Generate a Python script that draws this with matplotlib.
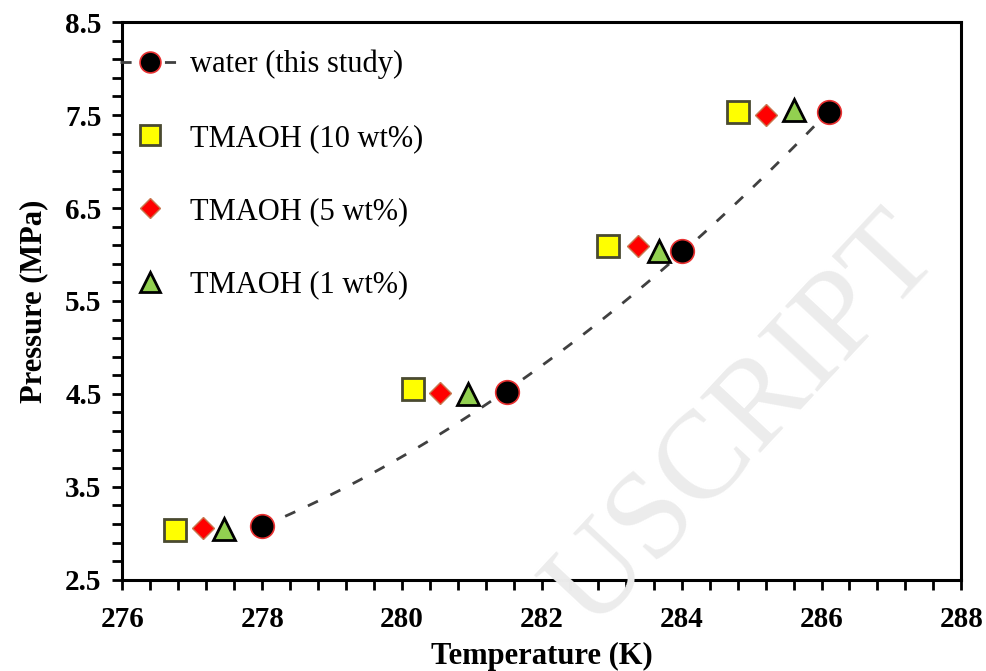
import numpy as np
import matplotlib.pyplot as plt
from matplotlib.ticker import MultipleLocator, FormatStrFormatter

plt.rcParams['font.family'] = ['Liberation Serif', 'DejaVu Serif']

# water (this study)
water_T = [278.0, 281.5, 284.0, 286.1]
water_P = [3.08, 4.52, 6.04, 7.53]
# TMAOH 10 wt%
t10_T = [276.75, 280.15, 282.95, 284.8]
t10_P = [3.03, 4.55, 6.09, 7.53]
# TMAOH 5 wt%
t5_T = [277.15, 280.55, 283.37, 285.2]
t5_P = [3.06, 4.51, 6.09, 7.50]
# TMAOH 1 wt%
t1_T = [277.45, 280.95, 283.68, 285.6]
t1_P = [3.05, 4.50, 6.04, 7.55]

fig = plt.figure(figsize=(9.87, 6.71), dpi=100)
ax = fig.add_axes([0.124, 0.136, 0.85, 0.831])

# watermark (partial, as in the reference)
fig.text(0.755, 0.37, 'USCRIPT', fontsize=90, rotation=47, color='#ececec',
         ha='center', va='center', family='Liberation Serif', zorder=0)

# quadratic trend line through the water points
coef = np.polyfit(water_T, water_P, 2)
tt = np.linspace(min(water_T), max(water_T), 100)

ax.plot(tt, np.polyval(coef, tt), '--', color='#404040', lw=2, dashes=(4, 5), zorder=2)
ax.plot(water_T, water_P, 'o', ms=17, mfc='black', mec='#e83030', mew=1.2, zorder=4)
ax.plot(t10_T, t10_P, 's', ms=16, mfc='#ffff00', mec='#4a4a30', mew=2, zorder=3)
ax.plot(t5_T, t5_P, 'D', ms=11.5, mfc='#ff0000', mec='#c87850', mew=1, zorder=3)
ax.plot(t1_T, t1_P, '^', ms=16, mfc='#92d050', mec='black', mew=2, zorder=3)
ax.patch.set_alpha(0)

# legend handles
h0, = ax.plot([], [], 'o', ls='--', color='#404040', dashes=(4, 4), lw=2, ms=15,
              mfc='black', mec='#e83030', mew=1.2)
h1, = ax.plot([], [], 's', ms=14, mfc='#ffff00', mec='#4a4a30', mew=2)
h2, = ax.plot([], [], 'D', ms=10, mfc='#ff0000', mec='#c87850', mew=1)
h3, = ax.plot([], [], '^', ms=14, mfc='#92d050', mec='black', mew=2)
ax.legend([h0, h1, h2, h3],
          ['water (this study)', 'TMAOH (10 wt%)', 'TMAOH (5 wt%)', 'TMAOH (1 wt%)'],
          loc='upper left', frameon=False, fontsize=22, labelspacing=1.45,
          handlelength=2.0, handletextpad=0.3, borderaxespad=0.2,
          bbox_to_anchor=(-0.025, 0.983))

ax.set_xlim(276, 288)
ax.set_ylim(2.5, 8.5)
ax.xaxis.set_major_locator(MultipleLocator(2))
ax.xaxis.set_minor_locator(MultipleLocator(0.4))
ax.yaxis.set_major_locator(MultipleLocator(1, offset=0.5))
ax.yaxis.set_minor_locator(MultipleLocator(0.2, offset=0.1))
ax.yaxis.set_major_formatter(FormatStrFormatter('%.1f'))
ax.tick_params(which='both', direction='out', width=2, length=7, labelsize=21)
ax.tick_params(axis='x', pad=12)
ax.tick_params(axis='y', pad=8)
for lab in ax.get_xticklabels() + ax.get_yticklabels():
    lab.set_fontweight('bold')
for s in ax.spines.values():
    s.set_linewidth(2.2)

ax.set_xlabel('Temperature (K)', fontsize=22, fontweight='bold', labelpad=6)
ax.set_ylabel('Pressure (MPa)', fontsize=22, fontweight='bold', labelpad=12)

fig.savefig('out.png', dpi=100)
